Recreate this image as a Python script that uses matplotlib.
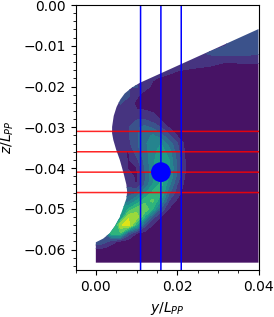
import matplotlib
matplotlib.use('Agg')
import matplotlib.pyplot as plt
import numpy as np

y_cols = [0.0, 0.002, 0.004, 0.006, 0.008, 0.010, 0.012, 0.014, 0.016, 0.018, 0.020, 0.022, 0.024, 0.028, 0.032, 0.036, 0.040]
z_rows = [-0.004, -0.008, -0.010, -0.012, -0.014, -0.016, -0.018, -0.020, -0.022, -0.024, -0.026, -0.028, -0.030,
          -0.032, -0.034, -0.036, -0.038, -0.040, -0.042, -0.044, -0.046, -0.048, -0.050, -0.052, -0.054, -0.056,
          -0.058, -0.060, -0.064]

# wake field, one row per z
wake = [
    [.15, .15, .15, .15, .15, .15, .15, .15, .15, .15, .15, .15, .15, .18, .24, .28, .28],
    [.15, .15, .15, .15, .15, .15, .15, .15, .15, .15, .15, .15, .15, .17, .19, .28, .28],
    [.15, .15, .15, .15, .15, .15, .15, .15, .15, .15, .15, .15, .15, .17, .20, .25, .25],
    [.15, .15, .15, .15, .15, .15, .15, .15, .15, .15, .15, .15, .15, .21, .225, .225, .205],
    [.15, .15, .15, .15, .15, .15, .15, .15, .15, .15, .15, .15, .15, .13, .10, .11, .11],
    [.15, .15, .15, .15, .15, .15, .15, .15, .15, .13, .105, .095, .085, .07, .06, .05, .05],
    [.15, .15, .15, .15, .15, .15, .14, .11, .09, .07, .05, .05, .05, .05, .05, .05, .05],
    [.15, .15, .15, .15, .20, .21, .14, .08, .05, .05, .05, .05, .05, .05, .05, .05, .05],
    [.15, .15, .15, .22, .22, .12, .06, .05, .05, .05, .05, .05, .05, .05, .05, .05, .05],
    [.15, .15, .15, .21, .15, .08, .06, .05, .05, .05, .05, .05, .05, .05, .05, .05, .05],
    [.15, .15, .15, .15, .13, .105, .105, .09, .06, .05, .05, .05, .05, .05, .05, .05, .05],
    [.15, .15, .15, .15, .15, .19, .19, .14, .09, .06, .05, .05, .05, .05, .05, .05, .05],
    [.15, .15, .15, .15, .19, .28, .33, .28, .20, .09, .05, .05, .05, .05, .05, .05, .05],
    [.15, .15, .15, .15, .19, .28, .36, .41, .33, .22, .09, .05, .05, .05, .05, .05, .05],
    [.15, .15, .15, .15, .17, .28, .38, .45, .50, .36, .21, .07, .05, .05, .05, .05, .05],
    [.15, .15, .15, .13, .09, .25, .36, .46, .55, .45, .24, .08, .05, .05, .05, .05, .05],
    [.15, .15, .15, .16, .09, .17, .33, .47, .58, .50, .27, .095, .05, .05, .05, .05, .05],
    [.15, .15, .15, .15, .09, .09, .30, .47, .60, .52, .28, .10, .05, .05, .05, .05, .05],
    [.15, .15, .15, .15, .14, .08, .28, .46, .62, .50, .27, .09, .05, .05, .05, .05, .05],
    [.17, .17, .17, .17, .17, .09, .30, .50, .63, .43, .20, .06, .05, .05, .05, .05, .05],
    [.25, .25, .25, .25, .25, .28, .47, .62, .62, .32, .15, .05, .05, .05, .05, .05, .05],
    [.33, .33, .33, .33, .36, .50, .66, .72, .50, .20, .08, .05, .05, .05, .05, .05, .05],
    [.55, .55, .55, .55, .60, .74, .79, .60, .28, .09, .05, .05, .05, .05, .05, .05, .05],
    [.45, .45, .45, .45, .88, .88, .58, .24, .09, .05, .05, .05, .05, .05, .05, .05, .05],
    [.30, .30, .30, .88, .97, .60, .24, .09, .05, .05, .05, .05, .05, .05, .05, .05, .05],
    [.30, .30, .68, .68, .25, .10, .06, .05, .05, .05, .05, .05, .05, .05, .05, .05, .05],
    [.30, .25, .13, .07, .05, .05, .05, .05, .05, .05, .05, .05, .05, .05, .05, .05, .05],
    [.07, .06, .05, .05, .05, .05, .05, .05, .05, .05, .05, .05, .05, .05, .05, .05, .05],
    [.05, .05, .05, .05, .05, .05, .05, .05, .05, .05, .05, .05, .05, .05, .05, .05, .05],
]

# hull section outline
hull_y = [0.040, 0.0108, 0.0088, 0.0071, 0.0060, 0.0051, 0.0044, 0.0040, 0.0040, 0.0043, 0.0050, 0.0059, 0.0068,
          0.0075, 0.0077, 0.0075, 0.0068, 0.0059, 0.0047, 0.0034, 0.0018, 0.0, 0.0, 0.040]
hull_z = [-0.0059, -0.0191, -0.0203, -0.0217, -0.0232, -0.0250, -0.0272, -0.0299, -0.0315, -0.0331, -0.0355, -0.0380,
          -0.0412, -0.0440, -0.0458, -0.0475, -0.0495, -0.0520, -0.0542, -0.0560, -0.0573, -0.0582, -0.0632, -0.0632]

red_z = [-0.031, -0.036, -0.041, -0.046]
blue_y = [0.011, 0.016, 0.021]
circle_center = (0.016, -0.041)
circle_radius = 0.00225

fig = plt.figure(figsize=(2.74, 3.17), dpi=100)
ax = fig.add_axes([75.5 / 274, 1 - 270 / 317, 183 / 274, 265 / 317])

cs = ax.contourf(y_cols, z_rows, np.array(wake), levels=np.linspace(0, 1, 11), cmap='viridis')
hull = plt.Polygon(np.column_stack([hull_y, hull_z]), closed=True, transform=ax.transData, fill=False, lw=0)
ax.add_patch(hull)
cs.set_clip_path(hull)

for z in red_z:
    ax.axhline(z, color='r', lw=1.1, alpha=0.85, snap=False)
for y in blue_y:
    ax.axvline(y, color='b', lw=1.1, snap=False)
ax.add_patch(plt.Circle(circle_center, circle_radius, color='b', zorder=3))

ax.set_xlim(-0.005, 0.04)
ax.set_ylim(-0.065, 0)
ax.set_xticks([0.0, 0.02, 0.04])
ax.set_xticks(np.arange(-0.005, 0.0401, 0.005), minor=True)
ax.set_yticks(np.arange(-0.06, 0.001, 0.01))
ax.set_yticks(np.arange(-0.064, 0.001, 0.002), minor=True)
ax.set_xlabel('$y/L_{PP}$', labelpad=4.5)
ax.set_ylabel('$z/L_{PP}$', labelpad=5)

fig.savefig('out.png', dpi=100)
